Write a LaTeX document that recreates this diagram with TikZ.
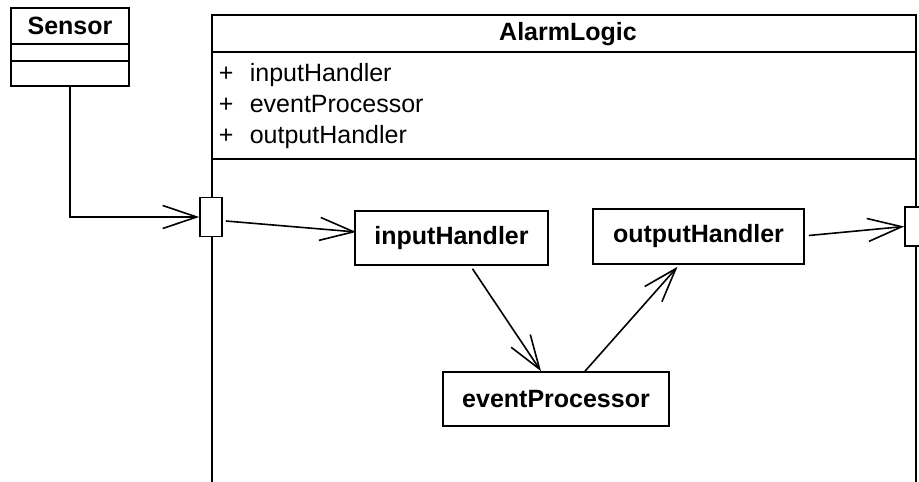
\documentclass[tikz,border=0pt]{standalone}
\usepackage{fontspec}
\setmainfont{Liberation Sans}
\usetikzlibrary{arrows.meta,calc}
\begin{document}
\begin{tikzpicture}[x=1pt,y=-1pt,line width=1.6pt,
  box/.style={draw,rectangle,inner sep=0pt,font=\fontsize{25}{29}\selectfont\bfseries},
  port/.style={draw,rectangle,fill=white,inner sep=0pt,minimum width=22pt,minimum height=39pt},
  attr/.style={anchor=base west,inner sep=0pt,font=\fontsize{25}{29}\selectfont},
  flow/.style={-{Straight Barb[length=34pt,width=23pt,line width=1.6pt]},line width=1.6pt},
  lbl/.style={inner sep=0pt,font=\fontsize{25}{29}\selectfont\bfseries}]
\useasboundingbox (0,0) rectangle (919,482);
\clip (0,0) rectangle (919,482);
% Sensor class
\node[draw,rectangle,minimum width=118pt,minimum height=78pt,inner sep=0pt] (sensor) at (70,47) {};
\draw (11,44) -- (129,44);
\draw (11,61) -- (129,61);
\node[lbl] (sensorname) at (70,26) {Sensor};
% AlarmLogic class
\draw (212,500) -- (212,15) -- (916,15) -- (916,500);
\coordinate (alarm) at (564,15);
\node[lbl] (alarmname) at (568,34) {AlarmLogic};
\draw (212,52) -- (916,52);
\draw (212,159) -- (916,159);
\node[attr] (p1) at (218,81) {+};
\node[attr] (a1) at (249,81) {inputHandler};
\node[attr] (p2) at (218,112) {+};
\node[attr] (a2) at (249,112) {eventProcessor};
\node[attr] (p3) at (218,143) {+};
\node[attr] (a3) at (249,143) {outputHandler};
% ports
\node[port] (inport) at (211,217) {};
\node[port] (outport) at (916,226.5) {};
% parts
\node[box,minimum width=193pt,minimum height=54pt] (ih) at (451.5,238) {inputHandler};
\node[box,minimum width=211pt,minimum height=55pt] (op) at (698.5,236.5) {outputHandler};
\node[box,minimum width=226pt,minimum height=54pt] (ep) at (556,399) {eventProcessor};
% connectors
\draw[flow] (sensor.south) |- (inport.west);
\draw[flow] ($(inport.east)+(3,4)$) -- ($(ih.west)+(2,-6)$);
\draw[flow] ($(ih.south)+(21,3)$) -- ($(ep.north)+(-15,0)$);
\draw[flow] ($(ep.north)+(29,0)$) -- ($(op.south)+(-21,2)$);
\draw[flow] ($(op.east)+(4,-1)$) -- (outport.west);
\end{tikzpicture}
\end{document}
